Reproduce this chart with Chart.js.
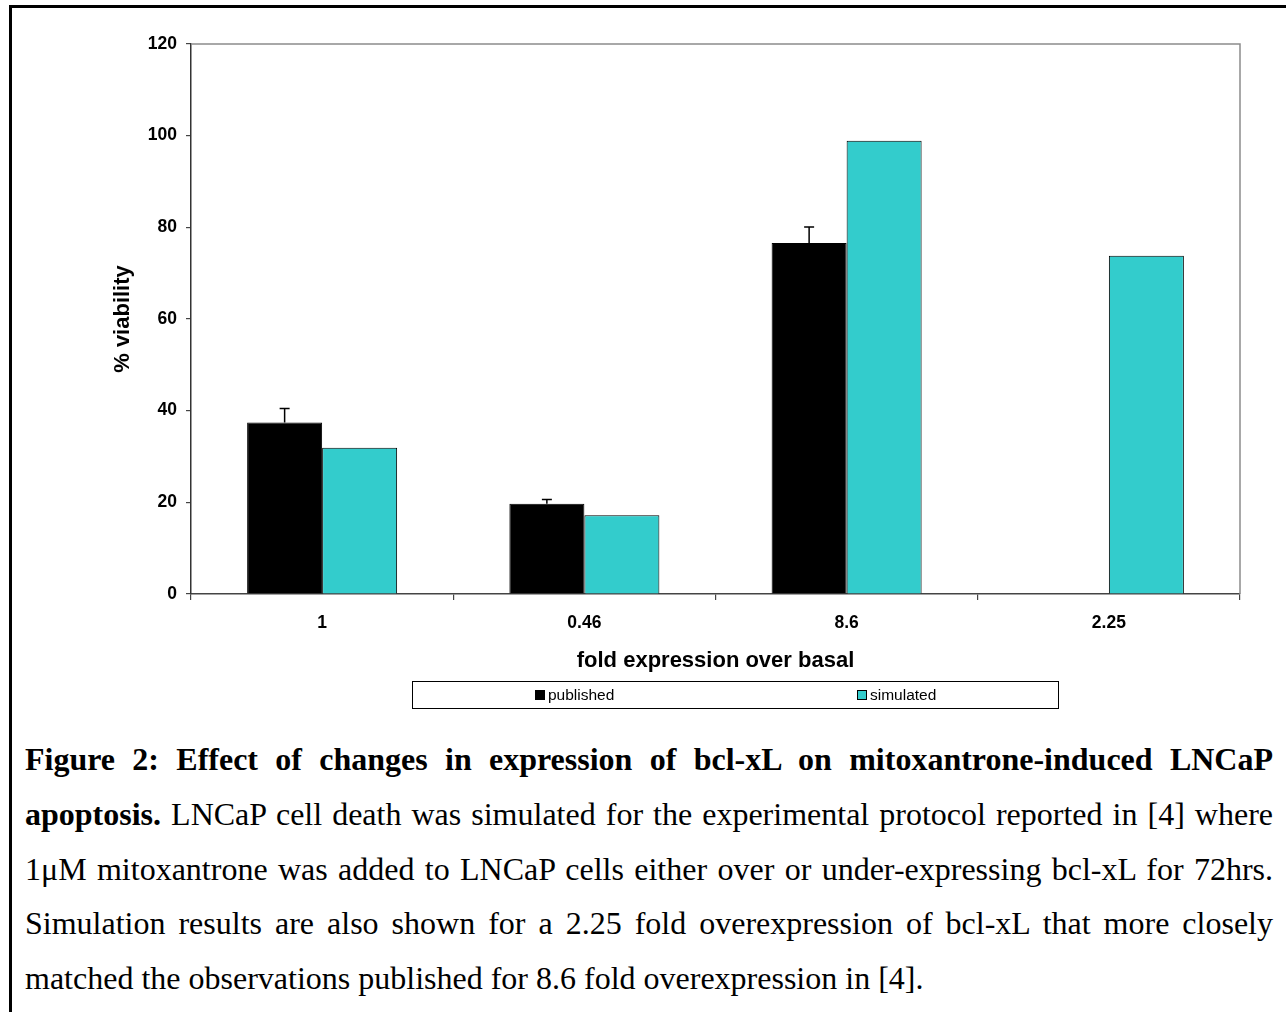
<!DOCTYPE html>
<html><head><meta charset="utf-8">
<script src="https://cdn.jsdelivr.net/npm/chart.js@4.4.1/dist/chart.umd.min.js"></script>
<style>
html,body{margin:0;padding:0;background:#fff;}
#wrap{position:relative;width:1286px;height:1012px;overflow:hidden;background:#fff;}
#frame{position:absolute;left:9px;top:5px;width:1300px;height:1100px;border-top:3px solid #000;border-left:3px solid #000;box-sizing:border-box;}
#chartBox{position:absolute;left:0;top:0;width:1286px;height:720px;}
#caption{position:absolute;left:25px;top:732px;width:1248px;font-family:"Liberation Serif","Times New Roman",serif;font-size:32px;line-height:54.75px;color:#000;}
.ln{text-align:justify;text-align-last:justify;white-space:nowrap;}
.last{text-align:left;text-align-last:left;}
b{font-weight:bold;}
</style>
</head><body>
<div id="wrap">
<div id="frame"></div>
<div id="chartBox"><canvas id="c" width="1286" height="720"></canvas></div>
<div id="caption">
<div class="ln"><b>Figure 2: Effect of changes in expression of bcl-xL on mitoxantrone-induced LNCaP</b></div>
<div class="ln"><b>apoptosis.</b> LNCaP cell death was simulated for the experimental protocol reported in [4] where</div>
<div class="ln">1μM mitoxantrone was added to LNCaP cells either over or under-expressing bcl-xL for 72hrs.</div>
<div class="ln">Simulation results are also shown for a 2.25 fold overexpression of bcl-xL that more closely</div>
<div class="ln last">matched the observations published for 8.6 fold overexpression in [4].</div>
</div>
</div>
<script>
const categories = ['1', '0.46', '8.6', '2.25'];
const published = [37.4, 19.7, 76.6, null];
const publishedErr = [3.1, 0.9, 3.5, null];
const simulated = [31.9, 17.2, 98.9, 73.8];
const yTicks = [0, 20, 40, 60, 80, 100, 120];
const seriesNames = ['published', 'simulated'];

const SANS = '"Liberation Sans", Arial, Helvetica, sans-serif';

const errorBars = {
  id: 'errorBars',
  afterDatasetsDraw(chart) {
    const meta = chart.getDatasetMeta(0);
    const y = chart.scales.y;
    const ctx = chart.ctx;
    ctx.save();
    ctx.strokeStyle = '#000';
    ctx.lineWidth = 1.5;
    meta.data.forEach((bar, i) => {
      const v = published[i], e = publishedErr[i];
      if (v == null || e == null) return;
      const top = y.getPixelForValue(v + e);
      ctx.beginPath();
      ctx.moveTo(bar.x, bar.y);
      ctx.lineTo(bar.x, top);
      ctx.moveTo(bar.x - 5, top);
      ctx.lineTo(bar.x + 5, top);
      ctx.stroke();
    });
    ctx.restore();
  }
};

const plotFrame = {
  id: 'plotFrame',
  beforeDatasetsDraw(chart) {
    const a = chart.chartArea, ctx = chart.ctx;
    ctx.save();
    ctx.strokeStyle = '#8c8c8c';
    ctx.lineWidth = 1.5;
    ctx.beginPath();
    ctx.moveTo(a.left, a.top);
    ctx.lineTo(a.right, a.top);
    ctx.lineTo(a.right, a.bottom);
    ctx.stroke();
    ctx.restore();
  }
};

const boxLegend = {
  id: 'boxLegend',
  afterDraw(chart) {
    const ctx = chart.ctx;
    ctx.save();
    ctx.strokeStyle = '#000';
    ctx.lineWidth = 1;
    ctx.strokeRect(412.5, 681.5, 646, 27);
    const items = [{x: 535}, {x: 857}];
    ctx.font = '15.5px ' + SANS;
    ctx.textBaseline = 'middle';
    chart.data.datasets.forEach((ds, i) => {
      const it = items[i];
      ctx.fillStyle = ds.backgroundColor;
      ctx.fillRect(it.x, 690, 10, 10);
      ctx.strokeStyle = '#000';
      ctx.strokeRect(it.x + 0.5, 690.5, 9, 9);
      ctx.fillStyle = '#000';
      ctx.fillText(ds.label, it.x + 13, 696);
    });
    ctx.restore();
  }
};

new Chart(document.getElementById('c'), {
  type: 'bar',
  data: {
    labels: categories,
    datasets: [
      { label: seriesNames[0], data: published, backgroundColor: '#000000', borderColor: '#000000', borderWidth: 1 },
      { label: seriesNames[1], data: simulated, backgroundColor: '#33CCCC', borderColor: '#000000', borderWidth: 1 }
    ]
  },
  options: {
    responsive: false,
    animation: false,
    devicePixelRatio: 1,
    categoryPercentage: 0.572,
    barPercentage: 1.0,
    layout: { padding: { left: 0, top: 44, right: 46, bottom: 0 } },
    plugins: { legend: { display: false }, tooltip: { enabled: false } },
    scales: {
      x: {
        grid: { offset: true, drawOnChartArea: false, drawTicks: true, tickLength: 6, tickColor: '#444', lineWidth: 1.2 },
        border: { color: '#444', width: 1.5 },
        ticks: { font: { family: SANS, weight: 'bold', size: 17.5 }, color: '#000', padding: 13 },
        title: { display: true, text: 'fold expression over basal', font: { family: SANS, weight: 'bold', size: 22 }, color: '#000', padding: { top: 0, bottom: 46 } },
        afterFit: s => { s.height = 126; }
      },
      y: {
        min: 0, max: 120,
        afterBuildTicks: s => { s.ticks = yTicks.map(v => ({ value: v })); },
        grid: { drawOnChartArea: false, drawTicks: true, tickLength: 5, tickColor: '#444', lineWidth: 1.2 },
        border: { color: '#333', width: 1.5 },
        ticks: { font: { family: SANS, weight: 'bold', size: 17.5 }, color: '#000', padding: 9 },
        title: { display: true, text: '% viability', font: { family: SANS, weight: 'bold', size: 22 }, color: '#000', padding: { top: 109.8, bottom: 0 } },
        afterFit: s => { s.width = 191; }
      }
    }
  },
  plugins: [plotFrame, errorBars, boxLegend]
});
</script>
</body></html>
